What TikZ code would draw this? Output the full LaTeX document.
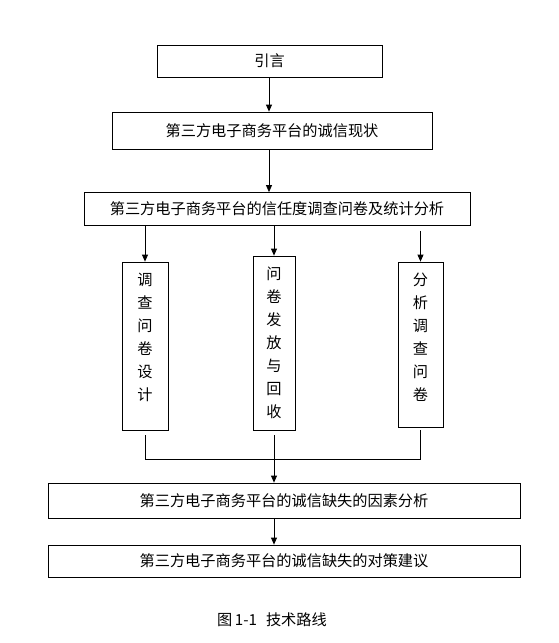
\documentclass[tikz,border=0pt]{standalone}
\usepackage{fontspec}
\setmainfont{Noto Sans CJK SC}
\usepackage{tikz}
\usetikzlibrary{arrows.meta, positioning}

\begin{document}
\begin{tikzpicture}[
    x=1pt, y=-1pt,
    every path/.style = {line width=0.8pt},
    every node/.append style = {font=\fontsize{15.2}{23}\selectfont},
    box/.style = {draw, rectangle, inner sep=0pt, minimum height=33pt},
    vbox/.style = {draw, rectangle, inner sep=0pt},
    vtext/.style = {align=center, inner sep=0pt, yshift=#1},
    arr/.style = {-{Triangle[length=7pt, width=6pt]}}
  ]
  \useasboundingbox (0,0) rectangle (559,643);
 \begin{scope}[shift={(0,0)}]
    % main chain
    \node[box, minimum width=225pt, minimum height=32pt] (intro) at (269.5,61) {引言};
    \node[box, minimum width=320pt, minimum height=37pt] (status) at (272,130.5) {第三方电子商务平台的诚信现状};
    \node[box, minimum width=386pt] (survey) at (277,209) {第三方电子商务平台的信任度调查问卷及统计分析};

    % three branches
    \node[vbox, minimum width=46pt, minimum height=168pt,
      label={[vtext=8.5pt]center:调\\查\\问\\卷\\设\\计}] (design) at (145,346) {};
    \node[vbox, minimum width=42pt, minimum height=174pt,
      label={[vtext=0pt]center:问\\卷\\发\\放\\与\\回\\收}] (issue) at (274,343) {};
    \node[vbox, minimum width=45pt, minimum height=165pt,
      label={[vtext=7pt]center:分\\析\\调\\查\\问\\卷}] (analyse) at (420.5,344.5) {};

    \node[box, minimum width=472pt, minimum height=35pt] (factor) at (284,500.5) {第三方电子商务平台的诚信缺失的因素分析};
    \node[box, minimum width=472pt, minimum height=32pt] (measure) at (284,561) {第三方电子商务平台的诚信缺失的对策建议};

    \node (caption) at (272,620) {图\,1-1\hspace{9pt}技术路线};

    \draw[arr] (intro.south -| 269,0) -- (status.north -| 269,0);
    \draw[arr] (status.south -| 269,0) -- (survey.north -| 269,0);
    \draw[arr] (survey.south -| design) -- (design.north);
    \draw[arr] (survey.south -| issue) -- (issue.north);
    \draw[arr] ([yshift=-5pt]survey.south -| analyse) -- (analyse.north);

    % merge line
    \coordinate (jl) at (design.south |- 0,459);
    \coordinate (jm) at (issue.south |- 0,459);
    \coordinate (jr) at (analyse.south |- 0,459);
    \draw[shorten <=5pt] (design.south) -- (jl);
    \draw[shorten <=5pt] (issue.south) -- (jm);
    \draw[shorten <=3pt] (analyse.south) -- (jr);
    \draw (jl) -- (jr);
    \draw[arr] (jm) -- (jm |- factor.north);
    \draw[arr] (factor.south -| jm) -- (measure.north -| jm);
  \end{scope}
\end{tikzpicture}
\end{document}
